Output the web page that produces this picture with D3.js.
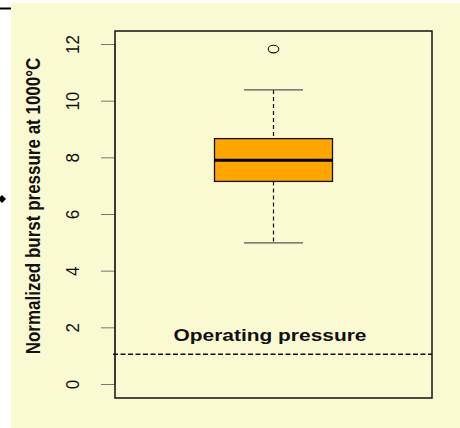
<!DOCTYPE html>
<html><head><meta charset="utf-8">
<script src="https://cdn.jsdelivr.net/npm/d3@7"></script>
<style>body{margin:0;background:#fff;} svg{display:block;}</style>
</head><body>
<svg id="c" width="460" height="428"></svg>
<script>
const categories = ["Burst pressure"];
const stats = [{lowerWhisker: 4.98, q1: 7.15, median: 7.9, q3: 8.66, upperWhisker: 10.38}];
const outliers = [11.82];
const operatingPressure = [1.05];
const yTicks = [0, 2, 4, 6, 8, 10, 12];
const yTitle = "Normalized burst pressure at 1000\u00B0C";
const refLabel = "Operating pressure";

const svg = d3.select("#c");
const font = "Liberation Sans, Arial, sans-serif";
const L = 115, R = 432, T = 31, B = 398;

// panel
svg.append("rect").attr("x", 11).attr("y", 3).attr("width", 449).attr("height", 425).attr("fill", "#FAFAD2");
// fragments of neighbouring figure
svg.append("line").attr("x1", 0).attr("x2", 11).attr("y1", 8.5).attr("y2", 8.5).attr("stroke", "#000").attr("stroke-width", 2);
svg.append("path").attr("d", "M-2,199 L2,195 L6,199 L2,203 Z").attr("fill", "#000");

const y = d3.scaleLinear().domain([0, 12]).range([384, 44]);
const x = d3.scaleBand().domain(categories).range([L, R]).padding(0.4575);

// y axis
const ax = svg.append("g").attr("transform", `translate(${L},0)`)
  .call(d3.axisLeft(y).tickValues(yTicks).tickSize(14).tickPadding(22).tickFormat(d3.format("d")));
ax.select(".domain").attr("stroke", "#777").attr("d", `M0,${y(0)}V${y(12)}`);
ax.selectAll(".tick line").attr("stroke", "#777");
ax.selectAll(".tick text")
  .attr("font-family", font).attr("font-size", 17).attr("fill", "#111")
  .attr("text-anchor", "middle").attr("dy", 0)
  .attr("transform", "translate(-36,0) scale(1.1,1) rotate(-90)")
  .attr("x", 0).attr("y", 0);

// y title
svg.append("text").text(yTitle)
  .attr("transform", "translate(40,206) scale(1.2,1) rotate(-90)")
  .attr("text-anchor", "middle").attr("font-family", font).attr("font-weight", "bold")
  .attr("font-size", 17).attr("fill", "#111");

// plot box
svg.append("rect").attr("x", L).attr("y", T).attr("width", R - L).attr("height", B - T)
  .attr("fill", "none").attr("stroke", "#111").attr("stroke-width", 1.5);

// boxplot
const g = svg.append("g");
stats.forEach((s, i) => {
  const c = categories[i];
  const x0 = x(c), bw = x.bandwidth(), cx = x0 + bw / 2, cap = bw / 4;
  g.append("line").attr("x1", cx).attr("x2", cx).attr("y1", y(s.upperWhisker)).attr("y2", y(s.q3))
    .attr("stroke", "#111").attr("stroke-width", 1.2).attr("stroke-dasharray", "4,3");
  g.append("line").attr("x1", cx).attr("x2", cx).attr("y1", y(s.q1)).attr("y2", y(s.lowerWhisker))
    .attr("stroke", "#111").attr("stroke-width", 1.2).attr("stroke-dasharray", "4,3");
  [s.upperWhisker, s.lowerWhisker].forEach(v => {
    g.append("line").attr("x1", cx - cap).attr("x2", cx + cap).attr("y1", y(v)).attr("y2", y(v))
      .attr("stroke", "#555").attr("stroke-width", 1.3);
  });
  g.append("rect").attr("x", x0).attr("y", y(s.q3)).attr("width", bw).attr("height", y(s.q1) - y(s.q3))
    .attr("fill", "#FFA500").attr("stroke", "#111").attr("stroke-width", 1.3);
  g.append("line").attr("x1", x0).attr("x2", x0 + bw).attr("y1", y(s.median)).attr("y2", y(s.median))
    .attr("stroke", "#000").attr("stroke-width", 3);
  outliers.forEach(o => {
    g.append("ellipse").attr("cx", cx).attr("cy", y(o)).attr("rx", 5.3).attr("ry", 3.8)
      .attr("fill", "none").attr("stroke", "#111").attr("stroke-width", 1.1);
  });
});

// operating pressure line
operatingPressure.forEach(v => {
  svg.append("line").attr("x1", L - 2).attr("x2", R).attr("y1", y(v)).attr("y2", y(v))
    .attr("stroke", "#111").attr("stroke-width", 1.7).attr("stroke-dasharray", "5,2.5");
  svg.append("text").text(refLabel)
    .attr("transform", `translate(270,${y(v) - 13.5}) scale(1.23,1)`)
    .attr("text-anchor", "middle").attr("font-family", font).attr("font-weight", "bold")
    .attr("font-size", 17).attr("fill", "#111");
});
</script>
</body></html>
